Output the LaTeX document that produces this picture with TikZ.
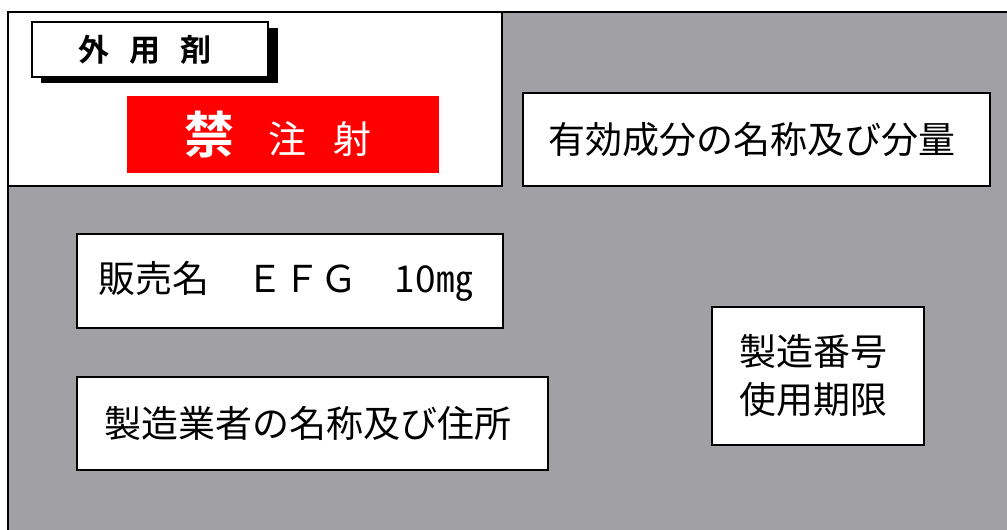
\documentclass[tikz,border=0pt]{standalone}
\usepackage{fontspec}
\newfontfamily\jp{Noto Sans CJK JP}[BoldFont={Noto Sans CJK JP Bold}]
\definecolor{bggray}{RGB}{161,160,165}
\definecolor{labelred}{RGB}{255,0,0}
\tikzset{
  frameline/.style={draw=black, line width=2pt},
  panel/.style={draw=black, line width=1.6pt, fill=white, inner sep=0pt,
    align=center, font=\jp\fontsize{37}{48}\selectfont},
}
\begin{document}
\begin{tikzpicture}[x=1pt,y=-1pt]
\useasboundingbox (0,0) rectangle (1007,530);
\fill[white] (0,0) rectangle (1007,530);
% outer gray frame
\draw[frameline, fill=bggray] (8,12) rectangle (1015,540);
% top-left white area
\draw[frameline, fill=white] (8,12) rectangle (502,186);
% 外用剤 label with shadow
\fill[black] (41,28) rectangle (278,83);
\node[panel, line width=1.4pt, minimum width=236pt, minimum height=55pt,
  font=\jp\bfseries\fontsize{31}{34}\selectfont] (gaiyo) at (150,49.5)
  {\hspace{-10pt}外\hspace{20pt}用\hspace{20pt}剤};
% red box
\node[fill=labelred, draw=none, minimum width=312pt, minimum height=77pt,
  inner sep=0pt, text=white] (kin) at (283,134.5)
  {\hspace{-10pt}\jp{\bfseries\fontsize{50}{52}\selectfont 禁}\hspace{34pt}{\fontsize{38}{40}\selectfont 注\hspace{28pt}射}};
% information boxes
\node[panel, minimum width=467pt, minimum height=93pt] (yuko) at (756.5,139.5)
  {\hspace{-10pt}有効成分の名称及び分量};
\node[panel, minimum width=426pt, minimum height=94pt] (hanbai) at (290,281)
  {\hspace{-8pt}販売名　ＥＦＧ　10㎎};
\node[panel, minimum width=471pt, minimum height=93pt] (seizo) at (312.5,423.5)
  {\hspace{-10pt}製造業者の名称及び住所};
\node[panel, minimum width=212pt, minimum height=138pt] (bango) at (818,376)
  {\hspace{-10pt}製造番号\\\hspace{-10pt}使用期限};
\end{tikzpicture}
\end{document}
